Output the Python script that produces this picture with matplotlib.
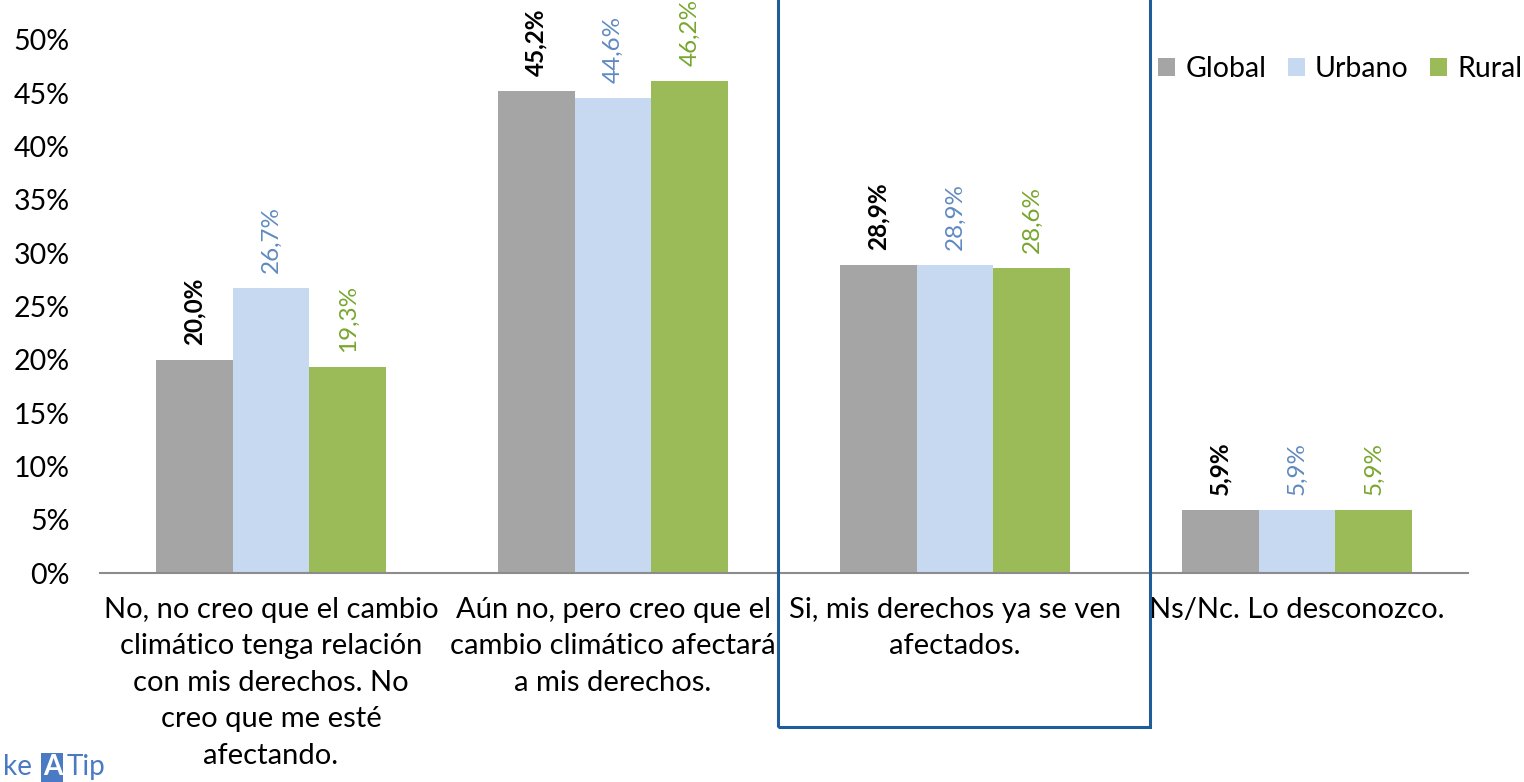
import matplotlib.pyplot as plt
import matplotlib.patches as mpatches
import numpy as np

plt.rcParams['font.family'] = ['Lato', 'DejaVu Sans']

# categorias y valores (%)
categorias = ["No, no creo que el cambio\nclimático tenga relación\ncon mis derechos. No\ncreo que me esté\nafectando.",
              "Aún no, pero creo que el\ncambio climático afectará\na mis derechos.",
              "Si, mis derechos ya se ven\nafectados.",
              "Ns/Nc. Lo desconozco."]
series = ["Global", "Urbano", "Rural"]
global_vals = [20.0, 45.2, 28.9, 5.9]
urbano_vals = [26.7, 44.6, 28.9, 5.9]
rural_vals = [19.3, 46.2, 28.6, 5.9]
yticks = [0, 5, 10, 15, 20, 25, 30, 35, 40, 45, 50]

colores = ["#A5A5A5", "#C6D9F0", "#9BBB59"]
col_etiq = ["#000000", "#5F8AC0", "#77A62E"]
peso_etiq = ["bold", "normal", "normal"]

fig = plt.figure(figsize=(15.24, 7.82), dpi=100)
ax = fig.add_axes([100/1524, 1 - 573/782, 1368/1524, 533/782])

x = np.arange(len(categorias))
ancho = 0.225
datos = [global_vals, urbano_vals, rural_vals]
for i, vals in enumerate(datos):
    pos = x + (i - 1) * ancho
    ax.bar(pos, vals, ancho, color=colores[i], label=series[i], zorder=2)
    for p, v in zip(pos, vals):
        ax.text(p, v + 1.4, f"{v:.1f}%".replace(".", ","), rotation=90,
                ha="center", va="bottom", fontsize=17.5, color=col_etiq[i],
                fontweight=peso_etiq[i], clip_on=False)

ax.set_xlim(-0.5, 3.5)
ax.set_ylim(0, 50)
ax.set_yticks(yticks)
ax.set_yticklabels([f"{t}%" for t in yticks], fontsize=20.5)
ax.set_xticks(x)
ax.set_xticklabels(categorias, fontsize=21, linespacing=1.5, va="top")
ax.tick_params(axis="x", length=0, pad=17)
ax.tick_params(axis="y", length=0, pad=22)
for s in ["top", "right", "left"]:
    ax.spines[s].set_visible(False)
ax.spines["bottom"].set_color("#8C8C8C")
ax.spines["bottom"].set_linewidth(1.5)

fig.legend(loc="center right", bbox_to_anchor=(1522/1524, 1 - 69/782), ncol=3,
           frameon=False, fontsize=20.5, handlelength=0.6, handleheight=0.6,
           handletextpad=0.35, columnspacing=0.75, borderaxespad=0, borderpad=0)

# recuadro azul
rect = mpatches.Rectangle((778/1524, 1 - 727/782), (1150 - 778)/1524, 0.99,
                          transform=fig.transFigure, fill=False,
                          edgecolor="#1F5C99", linewidth=2.2, clip_on=False)
fig.patches.append(rect)

# logo
fig.text(0.002, 0.002, "ke", fontsize=20, color="#4A7AC4", ha="left", va="bottom")
fig.text(0.028, 0.002, "A", fontsize=20, color="white", fontweight="bold",
         ha="left", va="bottom",
         bbox=dict(boxstyle="square,pad=0.05", fc="#4A7AC4", ec="none"))
fig.text(0.0435, 0.002, "Tip", fontsize=20, color="#4A7AC4", ha="left", va="bottom")

fig.savefig("out.png", dpi=100)
